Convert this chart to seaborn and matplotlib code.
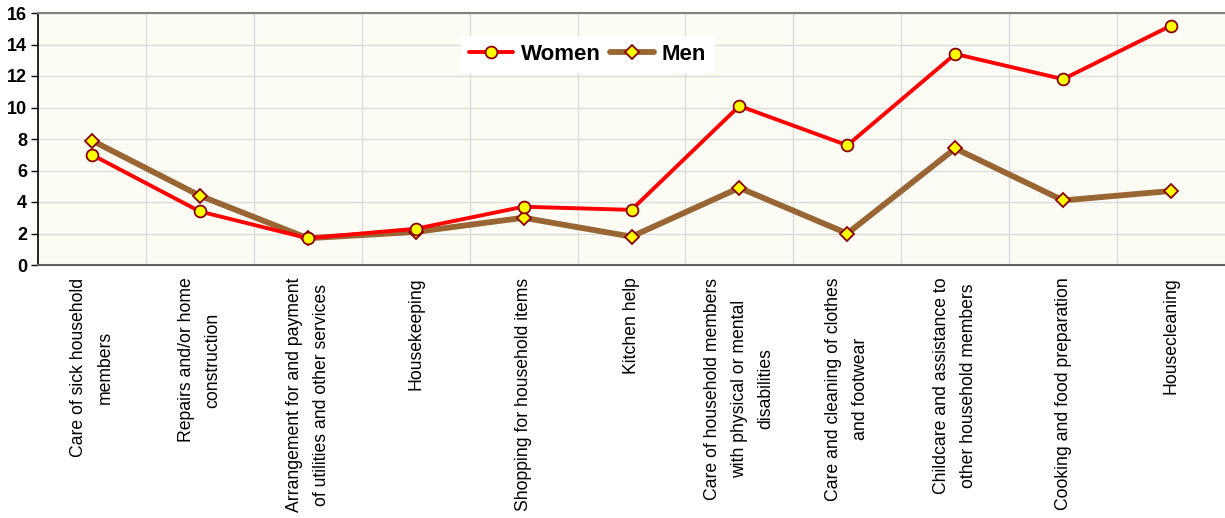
import matplotlib
matplotlib.use("Agg")
import matplotlib.pyplot as plt
import pandas as pd
import seaborn as sns

categories = [
    "Care of sick household\nmembers",
    "Repairs and/or home\nconstruction",
    "Arrangement for and payment\nof utilities and other services",
    "Housekeeping",
    "Shopping for household items",
    "Kitchen help",
    "Care of household members\nwith physical or mental\ndisabilities",
    "Care and cleaning of clothes\nand footwear",
    "Childcare and assistance to\nother household members",
    "Cooking and food preparation",
    "Housecleaning",
]
women = [7.0, 3.4, 1.7, 2.3, 3.7, 3.5, 10.1, 7.6, 13.4, 11.8, 15.2]
men = [7.9, 4.4, 1.7, 2.1, 3.0, 1.8, 4.9, 2.0, 7.4, 4.1, 4.7]
y_ticks = [0, 2, 4, 6, 8, 10, 12, 14, 16]

sns.set_theme(style="white")
plt.rcParams["font.family"] = ["Liberation Sans", "DejaVu Sans"]
plt.rcParams["text.color"] = "black"
plt.rcParams["xtick.color"] = "black"
plt.rcParams["ytick.color"] = "black"
plt.rcParams["axes.labelcolor"] = "black"

df = pd.DataFrame({
    "idx": list(range(len(categories))) * 2,
    "value": women + men,
    "group": ["Women"] * len(categories) + ["Men"] * len(categories),
})

fig = plt.figure(figsize=(12.25, 5.18), dpi=100)
ax = fig.add_axes([38 / 1225, 1 - 265 / 518, 1 - 38 / 1225, 252 / 518])
ax.set_facecolor("#FCFCF5")

sns.lineplot(data=df[df.group == "Women"], x="idx", y="value", ax=ax,
             color="#FF0000", linewidth=2.8, marker="o", markersize=8.5,
             markerfacecolor="#FFFF00", markeredgecolor="#8B0000",
             markeredgewidth=1.3, label="Women", sort=False, zorder=4)
sns.lineplot(data=df[df.group == "Men"], x="idx", y="value", ax=ax,
             color="#996633", linewidth=4.2, marker="D", markersize=7.5,
             markerfacecolor="#FFFF00", markeredgecolor="#8B0000",
             markeredgewidth=1.3, label="Men", sort=False, zorder=3)

ax.set_xlim(-0.5, len(categories) - 0.5)
ax.set_ylim(0, 16)
ax.set_yticks(y_ticks)
ax.set_yticklabels([str(t) for t in y_ticks], fontsize=13, fontweight="bold")
ax.set_xticks(range(len(categories)))
ax.set_xticklabels(categories, rotation=90, ha="center", va="top",
                   multialignment="center", fontsize=12.7, linespacing=1.75)
ax.tick_params(axis="x", length=0, pad=9)
ax.tick_params(axis="y", length=5, width=1, direction="out", color="black", pad=3, left=True)

# category-boundary vertical grid + horizontal grid at major ticks
ax.set_xticks([i + 0.5 for i in range(len(categories) - 1)], minor=True)
ax.grid(which="minor", axis="x", color="#DCDCDC", linewidth=1)
ax.grid(which="major", axis="y", color="#DCDCDC", linewidth=1)
ax.grid(which="major", axis="x", visible=False)
ax.set_axisbelow(True)

ax.set_xlabel("")
ax.set_ylabel("")
ax.spines["right"].set_visible(False)
ax.spines["left"].set_color("black")
ax.spines["left"].set_linewidth(1.2)
ax.spines["bottom"].set_color("#606060")
ax.spines["bottom"].set_linewidth(1.5)
ax.spines["top"].set_color("#808080")
ax.spines["top"].set_linewidth(1.5)

leg = ax.legend(loc="center", bbox_to_anchor=(0.463, 0.837), ncol=2,
                frameon=True, fancybox=False, framealpha=1, facecolor="white",
                edgecolor="white", handlelength=2.0, handletextpad=0.35,
                columnspacing=0.4, borderpad=0.35,
                prop={"size": 16, "weight": "bold"})

fig.savefig("out.png", dpi=100, facecolor="white")
